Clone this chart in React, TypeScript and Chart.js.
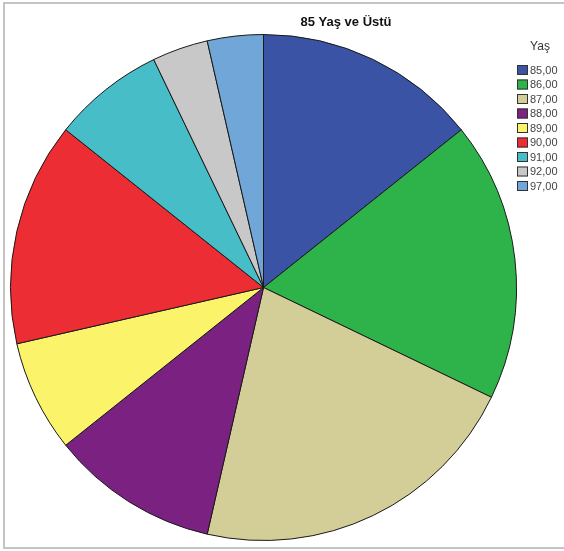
import React, { useEffect, useRef } from "react";
import { Chart, registerables } from "chart.js";

Chart.register(...registerables);

const categories = ["85,00", "86,00", "87,00", "88,00", "89,00", "90,00", "91,00", "92,00", "97,00"];
const counts = [4, 5, 6, 3, 2, 4, 2, 1, 1];
const colors = ["#3A53A4", "#2EB34B", "#D3CE97", "#7A2181", "#FBF46A", "#ED2D34", "#46BDC7", "#C8C8C8", "#70A7D8"];
const titleText = "85 Yaş ve Üstü";
const legendTitle = "Yaş";

const decorPlugin = {
  id: "decor",
  beforeDraw(chart: any) {
    const ctx = chart.ctx;
    ctx.save();
    ctx.fillStyle = "#ffffff";
    ctx.fillRect(0, 0, chart.width, chart.height);
    ctx.strokeStyle = "#c4c4c4";
    ctx.lineWidth = 2;
    ctx.beginPath();
    ctx.moveTo(564, 3);
    ctx.lineTo(4, 3);
    ctx.lineTo(4, 548);
    ctx.lineTo(564, 548);
    ctx.stroke();
    ctx.restore();
  },
  afterDraw(chart: any) {
    const ctx = chart.ctx;
    ctx.save();
    ctx.fillStyle = "#111";
    ctx.font = "bold 13px 'Liberation Sans', Arial, sans-serif";
    ctx.textAlign = "center";
    ctx.textBaseline = "middle";
    ctx.fillText(titleText, 346, 22);

    ctx.fillStyle = "#333";
    ctx.font = "12px 'Liberation Sans', Arial, sans-serif";
    ctx.fillText(legendTitle, 540, 47);

    ctx.font = "11px 'Liberation Sans', Arial, sans-serif";
    ctx.textAlign = "left";
    const labels = chart.data.labels as string[];
    const bg = chart.data.datasets[0].backgroundColor as string[];
    labels.forEach((lab, i) => {
      const y = 70 + i * 14.5;
      ctx.fillStyle = bg[i];
      ctx.fillRect(517, y - 5, 11, 10);
      ctx.strokeStyle = "#333";
      ctx.lineWidth = 1;
      ctx.strokeRect(517.5, y - 4.5, 10, 9);
      ctx.fillStyle = "#444";
      ctx.fillText(lab, 530, y + 0.5);
    });
    ctx.restore();
  },
};

export default function App() {
  const ref = useRef<HTMLCanvasElement | null>(null);
  useEffect(() => {
    if (!ref.current) return;
    const chart = new Chart(ref.current, {
      type: "pie",
      data: {
        labels: categories,
        datasets: [
          {
            data: counts,
            backgroundColor: colors,
            borderColor: "#1a1a1a",
            borderWidth: 1,
          },
        ],
      },
      options: {
        animation: false,
        responsive: false,
        devicePixelRatio: 1,
        layout: { padding: { left: 10, right: 47, top: 34, bottom: 10 } },
        plugins: {
          legend: { display: false },
          title: { display: false },
          tooltip: { enabled: false },
        },
      },
      plugins: [decorPlugin],
    });
    return () => chart.destroy();
  }, []);
  return (
    <div style={{ position: "fixed", left: 0, top: 0, width: 564, height: 551, background: "#fff" }}>
      <canvas ref={ref} width={564} height={551} style={{ display: "block", width: 564, height: 551 }} />
    </div>
  );
}
